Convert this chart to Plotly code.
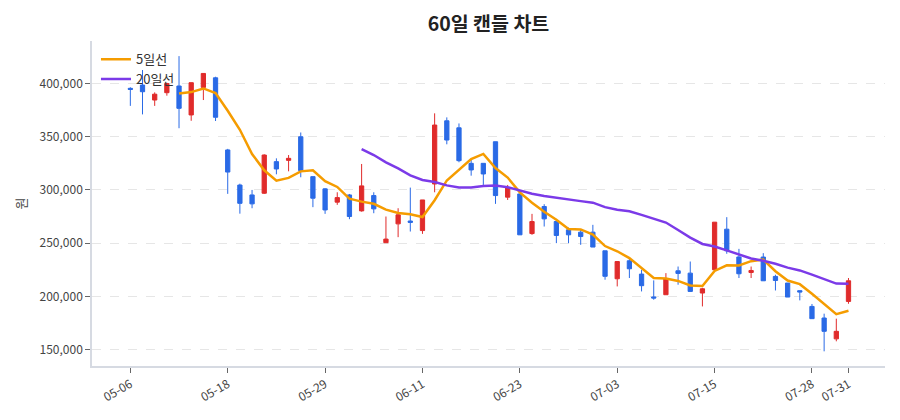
import plotly.graph_objects as go
import pandas as pd

dates = [
    "05-06", "05-07", "05-08", "05-09", "05-12", "05-13", "05-14", "05-16",
    "05-18", "05-19", "05-20", "05-21", "05-22", "05-23", "05-26", "05-27",
    "05-29", "05-30", "06-02", "06-03", "06-04", "06-05", "06-09", "06-10",
    "06-11", "06-12", "06-13", "06-16", "06-17", "06-18", "06-19", "06-20",
    "06-23", "06-24", "06-25", "06-26", "06-27", "06-30", "07-01", "07-02",
    "07-03", "07-04", "07-07", "07-08", "07-09", "07-10", "07-11", "07-14",
    "07-15", "07-16", "07-17", "07-18", "07-21", "07-22", "07-23", "07-25",
    "07-28", "07-29", "07-30", "07-31",
]
open_ = [
    395500, 398600, 384500, 391400, 397700, 370500, 396400, 405400, 337600, 304600,
    295300, 296900, 326600, 327800, 350000, 312500, 301000, 288500, 295300, 280300,
    294700, 250400, 268100, 270800, 261800, 305600, 365000, 358400, 325000, 325000,
    345300, 293200, 296200, 259000, 284400, 270300, 262500, 260300, 260300, 242800,
    216500, 233400, 220900, 199400, 201500, 224000, 221800, 203100, 225000, 263100,
    237000, 222400, 236900, 218700, 212500, 205300, 190500, 179600, 160000, 195200,
]
high = [
    396500, 412700, 391700, 400800, 425800, 401000, 409500, 406400, 338600, 305900,
    300000, 333500, 329700, 332800, 354000, 312500, 301600, 297800, 296200, 324400,
    297800, 275000, 282800, 302200, 290600, 372000, 368200, 362500, 328100, 325000,
    345300, 304700, 296200, 277500, 286600, 270300, 264600, 262500, 267200, 242800,
    232700, 235300, 225000, 215000, 221800, 228000, 232700, 208000, 269700, 274400,
    244600, 228000, 240600, 220300, 212500, 205300, 192800, 183700, 179000, 217200,
]
low = [
    379000, 371000, 379000, 388600, 358000, 365000, 384500, 364800, 296300, 277700,
    282800, 296200, 314700, 317500, 311900, 283800, 277500, 286000, 272500, 279600,
    278100, 250400, 255600, 260900, 258700, 297800, 342900, 326000, 313400, 304700,
    286900, 290600, 257800, 257800, 265600, 250000, 250000, 248400, 246300, 215600,
    209300, 217200, 204600, 196800, 201500, 210900, 204600, 190500, 225000, 240000,
    217200, 217200, 214600, 205500, 199300, 196200, 179000, 148300, 157700, 193000,
]
close = [
    394500, 392300, 390000, 400000, 376700, 400800, 409500, 368300, 316800, 287400,
    286900, 332800, 319700, 329700, 318100, 292200, 281200, 292800, 275000, 303800,
    282200, 253800, 276600, 269500, 290600, 361000, 346900, 327500, 318800, 315000,
    294700, 302200, 257800, 270300, 272800, 257200, 257800, 256200, 246300, 218800,
    232700, 225900, 210000, 198400, 216500, 221500, 204600, 207100, 269700, 242800,
    221200, 224300, 214600, 214900, 199300, 204000, 179000, 167100, 167100, 214600,
]
tick_dates = ["05-06", "05-18", "05-29", "06-11", "06-23", "07-03", "07-15", "07-28", "07-31"]

ma5 = pd.Series(close).rolling(5).mean()
ma20 = pd.Series(close).rolling(20).mean()

FONT = "Noto Sans CJK KR"
RED = "#e02b2b"
BLUE = "#2a6ae6"

fig = go.Figure()
fig.add_trace(go.Candlestick(
    x=dates, open=open_, high=high, low=low, close=close,
    increasing=dict(line=dict(color=RED, width=1), fillcolor=RED),
    decreasing=dict(line=dict(color=BLUE, width=1), fillcolor=BLUE),
    whiskerwidth=0, showlegend=False, name="캔들",
))
fig.add_trace(go.Scatter(
    x=dates, y=ma5, mode="lines", name="5일선",
    line=dict(color="#f59c00", width=2.5),
))
fig.add_trace(go.Scatter(
    x=dates, y=ma20, mode="lines", name="20일선",
    line=dict(color="#7b3ae8", width=2.5),
))

fig.update_layout(
    width=900, height=420,
    margin=dict(l=81, r=23, t=33, b=62),
    paper_bgcolor="white", plot_bgcolor="white",
    font=dict(family=FONT, color="#444", size=12),
    title=dict(text="<b>60일 캔들 차트</b>", x=0.5, xref="paper", y=0.962, yref="container",
               xanchor="center", yanchor="middle",
               font=dict(size=19.5, color="#222", family=FONT)),
    legend=dict(x=0.005, y=0.99, xanchor="left", yanchor="top", tracegroupgap=0,
                bgcolor="rgba(255,255,255,0)", font=dict(size=13, color="#333")),
    boxgap=0.5,
)
fig.update_xaxes(
    type="category", range=[-3.15, 62.0],
    rangeslider=dict(visible=False),
    tickmode="array", tickvals=tick_dates, ticktext=tick_dates,
    tickangle=-30, tickfont=dict(size=12, color="#444"),
    ticks="outside", ticklen=5, tickcolor="#666",
    showgrid=False, showline=True, linecolor="#d6dae2", linewidth=1.5,
    zeroline=False,
)
fig.update_yaxes(
    range=[134500, 440000],
    tickformat=",", tickvals=[150000, 200000, 250000, 300000, 350000, 400000],
    tickfont=dict(size=12, color="#444"),
    ticks="outside", ticklen=5, tickcolor="#666",
    showgrid=True, gridcolor="#e6e6e6", griddash="dash", gridwidth=1,
    showline=True, linecolor="#d6dae2", linewidth=1.5, zeroline=False,
    title=dict(text="원", font=dict(size=13, color="#444"), standoff=10),
)

fig.write_html("out.html")
